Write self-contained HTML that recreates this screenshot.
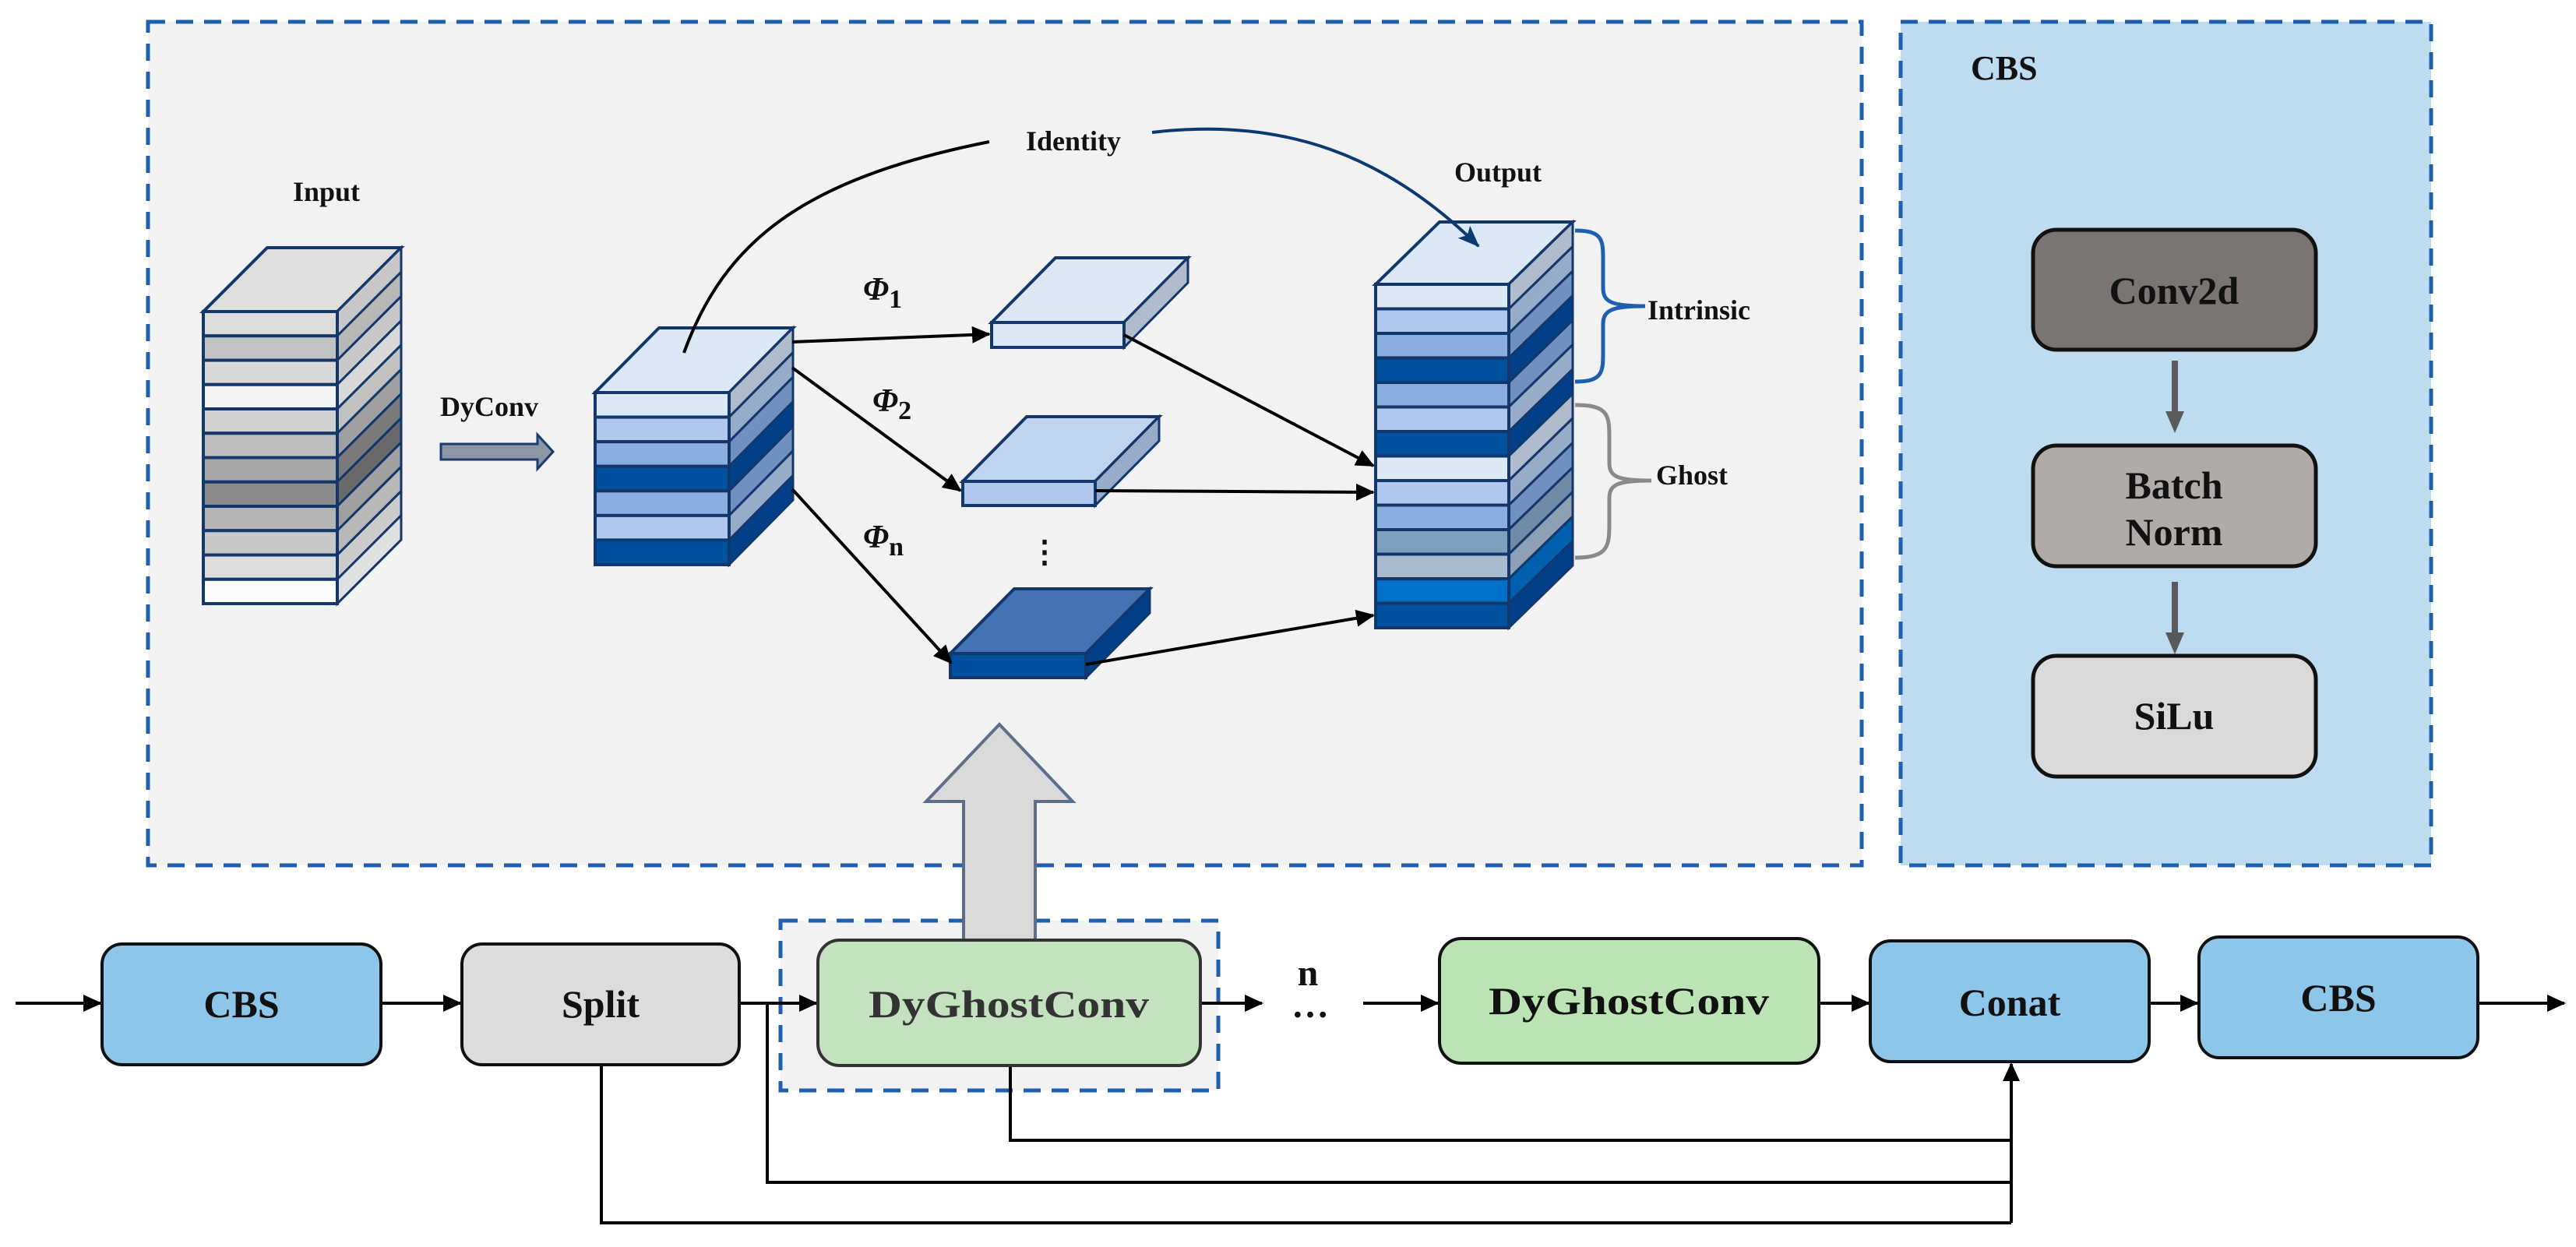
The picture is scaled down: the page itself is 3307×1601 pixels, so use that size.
<!DOCTYPE html>
<html><head><meta charset="utf-8"><style>
html,body{margin:0;padding:0;background:#fff;}
svg{display:block;}
text{font-family:"Liberation Serif",serif;font-weight:bold;fill:#111;}
</style></head><body>
<svg id="s" width="3307" height="1601" viewBox="0 0 3307 1601" xmlns="http://www.w3.org/2000/svg">
<defs>
<marker id="ab" markerWidth="24" markerHeight="22" refX="22" refY="11" orient="auto" markerUnits="userSpaceOnUse"><path d="M0,0 L24,11 L0,22 z" fill="#000"/></marker>
<marker id="abl" markerWidth="28" markerHeight="22" refX="26" refY="11" orient="auto" markerUnits="userSpaceOnUse"><path d="M0,0 L28,11 L0,22 L6,11 z" fill="#0b3a70"/></marker>
</defs>
<!-- panels -->
<rect x="190" y="28" width="2200" height="1083" fill="#f2f2f2" stroke="#1f5fb0" stroke-width="5" stroke-dasharray="22,14"/>
<rect x="2440" y="28" width="681" height="1083" fill="#bddcf0" stroke="#1f5fb0" stroke-width="5" stroke-dasharray="22,14"/>
<text x="2530" y="102" font-size="44">CBS</text>

<!-- CBS panel boxes -->
<rect x="2610" y="295" width="363" height="154" rx="30" fill="#7a7472" stroke="#111" stroke-width="5"/>
<text x="2791" y="390" font-size="50" text-anchor="middle">Conv2d</text>
<rect x="2610" y="572" width="363" height="155" rx="30" fill="#b0aaa8" stroke="#111" stroke-width="5"/>
<text x="2791" y="640" font-size="50" text-anchor="middle">Batch</text>
<text x="2791" y="700" font-size="50" text-anchor="middle">Norm</text>
<rect x="2610" y="842" width="363" height="155" rx="30" fill="#d9d9d9" stroke="#111" stroke-width="5"/>
<text x="2791" y="936" font-size="50" text-anchor="middle">SiLu</text>
<line x1="2792" y1="463" x2="2792" y2="530" stroke="#5a5a5a" stroke-width="8"/>
<path d="M2780,528 L2804,528 L2792,556 z" fill="#5a5a5a"/>
<line x1="2792" y1="747" x2="2792" y2="814" stroke="#5a5a5a" stroke-width="8"/>
<path d="M2780,812 L2804,812 L2792,840 z" fill="#5a5a5a"/>

<g id="stacks"></g>

<!-- labels top -->
<text x="419" y="258" font-size="36" text-anchor="middle">Input</text>
<text x="628" y="534" font-size="36" text-anchor="middle">DyConv</text>
<path d="M566,570 L690,570 L690,558 L710,580 L690,602 L690,590 L566,590 z" fill="#8c96a4" stroke="#1a3c6e" stroke-width="3"/>
<text x="1923" y="233" font-size="36" text-anchor="middle">Output</text>
<text x="1378" y="193" font-size="36" text-anchor="middle">Identity</text>
<text x="2115" y="410" font-size="36">Intrinsic</text>
<text x="2126" y="622" font-size="36">Ghost</text>
<text x="1108" y="385" font-size="42" font-style="italic">Φ<tspan font-size="34" font-style="normal" dy="10">1</tspan></text>
<text x="1120" y="528" font-size="42" font-style="italic">Φ<tspan font-size="34" font-style="normal" dy="10">2</tspan></text>
<text x="1108" y="703" font-size="42" font-style="italic">Φ<tspan font-size="34" font-style="normal" dy="10">n</tspan></text>
<text x="1341" y="722" font-size="40" text-anchor="middle">⋮</text>

<!-- identity curve -->
<path d="M878,453 C930,310 1030,230 1270,182" fill="none" stroke="#000" stroke-width="4"/>
<path d="M1479,170 C1650,150 1780,200 1898,316" fill="none" stroke="#0b3a70" stroke-width="4" marker-end="url(#abl)"/>

<!-- braces -->
<path d="M2022,296 C2060,296 2058,310 2058,340 L2058,370 C2058,388 2070,393 2112,393 M2022,490 C2060,490 2058,476 2058,446 L2058,416 C2058,398 2070,393 2112,393" fill="none" stroke="#1f5fb0" stroke-width="5"/>
<path d="M2022,520 C2066,520 2066,534 2066,564 L2066,594 C2066,612 2076,617 2120,617 M2022,716 C2066,716 2066,700 2066,670 L2066,640 C2066,622 2076,617 2120,617" fill="none" stroke="#8a8a8a" stroke-width="5"/>

<!-- arrows in top -->
<g stroke="#000" stroke-width="4" fill="none">
<line x1="1017" y1="439" x2="1270" y2="429" marker-end="url(#ab)"/>
<line x1="1017" y1="472" x2="1233" y2="630" marker-end="url(#ab)"/>
<line x1="1017" y1="628" x2="1221" y2="851" marker-end="url(#ab)"/>
<line x1="1443" y1="430" x2="1763" y2="598" marker-end="url(#ab)"/>
<line x1="1406" y1="630" x2="1763" y2="632" marker-end="url(#ab)"/>
<line x1="1394" y1="853" x2="1763" y2="790" marker-end="url(#ab)"/>
</g>

<!-- bottom inner dashed -->
<rect x="1002" y="1182" width="562" height="218" fill="#f2f2f2" stroke="#1f5fb0" stroke-width="5" stroke-dasharray="22,14"/>
<!-- big up arrow -->
<path d="M1237,1208 L1237,1029 L1189,1029 L1283,930 L1377,1029 L1329,1029 L1329,1208 z" fill="#d9d9d9" stroke="#5e6e88" stroke-width="4"/>

<!-- connectors bottom -->
<g stroke="#000" stroke-width="4" fill="none">
<line x1="20" y1="1288" x2="129" y2="1288" marker-end="url(#ab)"/>
<line x1="489" y1="1288" x2="591" y2="1288" marker-end="url(#ab)"/>
<line x1="949" y1="1288" x2="1048" y2="1288" marker-end="url(#ab)"/>
<line x1="1541" y1="1288" x2="1620" y2="1288" marker-end="url(#ab)"/>
<line x1="1750" y1="1288" x2="1846" y2="1288" marker-end="url(#ab)"/>
<line x1="2335" y1="1288" x2="2399" y2="1288" marker-end="url(#ab)"/>
<line x1="2759" y1="1288" x2="2821" y2="1288" marker-end="url(#ab)"/>
<line x1="3181" y1="1288" x2="3292" y2="1288" marker-end="url(#ab)"/>
<polyline points="772,1367 772,1570 2582,1570"/>
<polyline points="985,1288 985,1518 2582,1518"/>
<polyline points="1297,1368 1297,1464 2582,1464"/>
<line x1="2582" y1="1570" x2="2582" y2="1366" marker-end="url(#ab)"/>
</g>

<!-- bottom boxes -->
<rect x="131" y="1212" width="358" height="155" rx="26" fill="#8ec6ea" stroke="#111" stroke-width="4"/>
<text x="310" y="1306" font-size="50" text-anchor="middle">CBS</text>
<rect x="593" y="1212" width="356" height="155" rx="26" fill="#dcdcdc" stroke="#111" stroke-width="4"/>
<text x="771" y="1306" font-size="50" text-anchor="middle">Split</text>
<rect x="1050" y="1207" width="491" height="161" rx="28" fill="#c4e1c0" stroke="#333" stroke-width="4"/>
<text x="1295" y="1306" font-size="50" text-anchor="middle" textLength="360" lengthAdjust="spacingAndGlyphs" style="fill:#333">DyGhostConv</text>
<text x="1679" y="1265" font-size="48" text-anchor="middle">n</text>
<text x="1682" y="1306" font-size="48" text-anchor="middle">…</text>
<rect x="1848" y="1205" width="487" height="160" rx="28" fill="#bce3b4" stroke="#111" stroke-width="4"/>
<text x="2091" y="1302" font-size="50" text-anchor="middle" textLength="360" lengthAdjust="spacingAndGlyphs">DyGhostConv</text>
<rect x="2401" y="1208" width="358" height="155" rx="26" fill="#8ec6ea" stroke="#111" stroke-width="4"/>
<text x="2580" y="1304" font-size="50" text-anchor="middle">Conat</text>
<rect x="2823" y="1203" width="358" height="155" rx="26" fill="#8ec6ea" stroke="#111" stroke-width="4"/>
<text x="3002" y="1298" font-size="50" text-anchor="middle">CBS</text>
</svg>
<script>
(function(){
var g=document.getElementById('stacks'),NS='http://www.w3.org/2000/svg',S='#13376b';
function el(t,a){var e=document.createElementNS(NS,t);for(var k in a)e.setAttribute(k,a[k]);g.appendChild(e);return e;}
function stack(x0,x1,y0,y1,dx,dy,cols,top,sides){
 el('polygon',{points:x0+','+y0+' '+(x0+dx)+','+(y0+dy)+' '+(x1+dx)+','+(y0+dy)+' '+x1+','+y0,fill:top,stroke:S,'stroke-width':4});
 var n=cols.length,h=(y1-y0)/n;
 for(var i=0;i<n;i++){var a=y0+i*h,b=a+h;
  el('polygon',{points:x1+','+a+' '+(x1+dx)+','+(a+dy)+' '+(x1+dx)+','+(b+dy)+' '+x1+','+b,fill:sides[i],stroke:S,'stroke-width':3});
  el('rect',{x:x0,y:a,width:x1-x0,height:h,fill:cols[i],stroke:S,'stroke-width':4});}
}
stack(261,433,400,775,82,-82,['#dcdcdc','#c2c2c2','#d8d8d8','#f4f4f4','#d0d0d0','#bdbdbd','#a8a8a8','#8c8c8c','#b4b4b4','#c8c8c8','#dcdcdc','#fafafa'],'#dedede',
 ['#c8c8c8','#b8b8b8','#c8c8c8','#d8d8d8','#c0c0c0','#a0a0a0','#7a7a7a','#6a6a6a','#a0a0a0','#b8b8b8','#cccccc','#e0e0e0']);
stack(764,936,504,725,82,-83,['#dce8f6','#b0c8ee','#8aaee0','#0050a0','#8aaee0','#b0c8ee','#0050a0'],'#dce8f6',
 ['#b0bccc','#96acc8','#7090c0','#004088','#7090c0','#96acc8','#004088']);
stack(1273,1443,414,446,82,-83,['#dce8f6'],'#dce8f6',['#b0bccc']);
stack(1236,1406,618,649,82,-83,['#b0c8ee'],'#c0d4f0',['#96acc8']);
stack(1220,1394,839,870,82,-83,['#0050a0'],'#4472b4',['#004088']);
stack(1766,1937,365,806,82,-80,['#dce8f6','#b0c8ee','#8aaee0','#0050a0','#8aaee0','#b0c8ee','#0050a0','#dce8f6','#b0c8ee','#8aaee0','#7f9fbf','#aabbd0','#0070c8','#0050a0'],'#dce8f6',
 ['#b0bccc','#96acc8','#7090c0','#004088','#7090c0','#96acc8','#004088','#b0bccc','#96acc8','#7090c0','#708aa8','#90a0b4','#0060b0','#004088']);
})();
</script>
</body></html>
